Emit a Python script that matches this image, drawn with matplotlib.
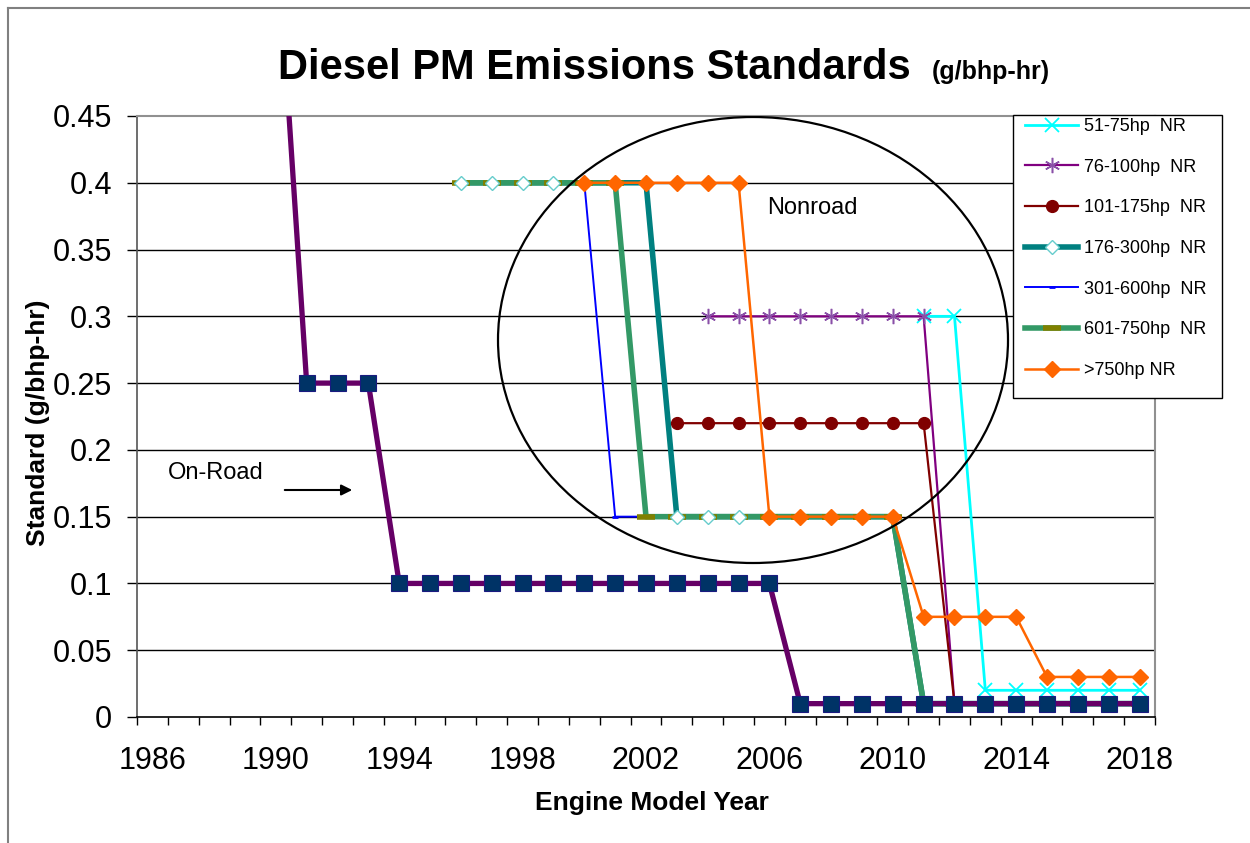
import matplotlib
matplotlib.use("Agg")
import matplotlib.pyplot as plt
from matplotlib.patches import Ellipse, Rectangle
from matplotlib.lines import Line2D
import numpy as np

plt.rcParams['font.family'] = ['Liberation Sans', 'DejaVu Sans']

years = list(range(1986, 2019))

def series(spec):
    out = []
    for y in years:
        v = np.nan
        for (a, b, val) in spec:
            if a <= y <= b:
                v = val
        out.append(v)
    return np.array(out, dtype=float)

onroad = series([(1988, 1990, 0.6), (1991, 1993, 0.25), (1994, 2006, 0.1), (2007, 2018, 0.01)])
nr_51_75 = series([(2011, 2012, 0.3), (2013, 2018, 0.02)])
nr_76_100 = series([(2004, 2011, 0.3), (2012, 2018, 0.01)])
nr_101_175 = series([(2003, 2011, 0.22), (2012, 2018, 0.01)])
nr_176_300 = series([(1996, 2002, 0.4), (2003, 2010, 0.15), (2011, 2018, 0.01)])
nr_301_600 = series([(1996, 2000, 0.4), (2001, 2010, 0.15), (2011, 2018, 0.01)])
nr_601_750 = series([(1996, 2001, 0.4), (2002, 2010, 0.15), (2011, 2018, 0.01)])
nr_750 = series([(2000, 2005, 0.4), (2006, 2010, 0.15), (2011, 2014, 0.075), (2015, 2018, 0.03)])

labels = ['51-75hp  NR', '76-100hp  NR', '101-175hp  NR', '176-300hp  NR',
          '301-600hp  NR', '601-750hp  NR', '>750hp NR']
yticks = [0, 0.05, 0.1, 0.15, 0.2, 0.25, 0.3, 0.35, 0.4, 0.45]
ytick_labels = ['0', '0.05', '0.1', '0.15', '0.2', '0.25', '0.3', '0.35', '0.4', '0.45']
xtick_years = list(range(1986, 2019, 4))

W, H = 1250, 843
fig = plt.figure(figsize=(W / 100, H / 100), dpi=100)
ax = fig.add_axes([137 / W, 1 - 717 / H, (1155 - 137) / W, (717 - 116) / H])

x = np.array(years)

c_cyan, c_purp, c_red = '#00FFFF', '#800080', '#800000'
c_teal, c_blue, c_green, c_olive, c_orange = '#008080', '#0000FF', '#339966', '#808000', '#FF6600'

ax.plot(x, nr_51_75, color=c_cyan, lw=2.0, marker='x', ms=10, mew=1.3, mec=c_cyan, zorder=3)
ax.plot(x, nr_76_100, color=c_purp, lw=1.6, marker=(6, 2, 0), ms=11, mew=1.1, mec='#8a50a8', zorder=3.5)
ax.plot(x, nr_101_175, color=c_red, lw=1.6, marker='o', ms=8.5, mfc=c_red, mec=c_red, zorder=3.5)
ax.plot(x, nr_176_300, color=c_teal, lw=4.0, zorder=2.5)
ax.plot(x, nr_301_600, color=c_blue, lw=1.4, marker='_', ms=5, mew=2, mec=c_blue, zorder=2.6)
ax.plot(x, nr_601_750, color=c_green, lw=4.0, zorder=2.8)
ax.plot(x, nr_601_750, ls='none', marker='_', ms=13, mew=4.0, mec=c_olive, zorder=2.9)
ax.plot(x, nr_176_300, ls='none', marker='D', ms=7, mfc='white', mec='#66CCCC', mew=1.0, zorder=4)
ax.plot(x, nr_750, color=c_orange, lw=1.8, marker='D', ms=8, mfc=c_orange, mec=c_orange, zorder=5)

ax.plot(x, onroad, color='#660066', lw=3.8, zorder=6)
ax.plot(x, onroad, ls='none', marker='s', ms=11, mfc='#003366', mec='#1a1a80', mew=0.8, zorder=7)

ax.set_xlim(1985.5, 2018.5)
ax.set_ylim(0, 0.45)
ax.set_yticks(yticks)
ax.set_yticklabels(ytick_labels)
ax.set_xticks(xtick_years)
ax.set_xticklabels([str(v) for v in xtick_years])
ax.set_xticks(np.arange(1985.5, 2019, 1.0), minor=True)
ax.tick_params(axis='x', which='major', length=0, pad=21, labelsize=22)
ax.tick_params(axis='x', which='minor', length=6, width=1, color='black', direction='out')
ax.tick_params(axis='y', which='major', length=7, width=1, direction='out', labelsize=22, pad=11)

for yv in yticks[1:-1]:
    ax.axhline(yv, color='black', lw=1.0, zorder=1)
for s in ['top', 'right']:
    ax.spines[s].set_color('#909090')
    ax.spines[s].set_linewidth(1.5)
ax.spines['left'].set_color('#555555')
ax.spines['bottom'].set_color('black')
ax.spines['left'].set_linewidth(1.2)
ax.spines['bottom'].set_linewidth(1.2)

fig.text(38 / W, 1 - 423 / H, 'Standard (g/bhp-hr)', fontsize=19, fontweight='bold',
         rotation=90, ha='center', va='center', zorder=11)
fig.text(652 / W, 1 - 803 / H, 'Engine Model Year', fontsize=19, fontweight='bold',
         ha='center', va='center')

ell = Ellipse(((753 - 137) / 1018, (717 - 340) / 601), 510 / 1018, 446 / 601,
              transform=ax.transAxes, fill=False, edgecolor='black', lw=1.6, zorder=8)
ax.add_patch(ell)

fig.text(812 / W, 1 - 208 / H, 'Nonroad', fontsize=17, ha='center', va='center')
fig.text(216 / W, 1 - 473 / H, 'On-Road', fontsize=17, ha='center', va='center')
ax.annotate('', xy=(355 / W, 1 - 490 / H), xytext=(282 / W, 1 - 490 / H),
            xycoords='figure fraction', textcoords='figure fraction',
            arrowprops=dict(arrowstyle='-|>', color='black', lw=1.5, mutation_scale=16))

fig.text(278 / W, 1 - 79 / H, 'Diesel PM Emissions Standards', fontsize=30, fontweight='bold',
         ha='left', va='baseline')
fig.text(932 / W, 1 - 79 / H, '(g/bhp-hr)', fontsize=18, fontweight='bold',
         ha='left', va='baseline')

handles = [
    Line2D([], [], color=c_cyan, lw=2.0, marker='x', ms=10, mew=1.3),
    Line2D([], [], color=c_purp, lw=1.6, marker=(6, 2, 0), ms=11, mew=1.1, mec='#8a50a8'),
    Line2D([], [], color=c_red, lw=1.6, marker='o', ms=8.5),
    Line2D([], [], color=c_teal, lw=4.0, marker='D', ms=7, mfc='white', mec='#66CCCC'),
    Line2D([], [], color=c_blue, lw=1.4, marker='_', ms=5, mew=2, mec=c_blue),
    Line2D([], [], color=c_green, lw=4.0, marker='_', ms=13, mew=4.0, mec=c_olive),
    Line2D([], [], color=c_orange, lw=1.8, marker='D', ms=8),
]
leg = fig.legend(handles, labels, loc='upper left', bbox_to_anchor=(1025 / W, 1 - 118 / H),
                 bbox_transform=fig.transFigure, frameon=False, fontsize=13,
                 handlelength=2.95, handletextpad=0.3, labelspacing=1.31,
                 borderpad=0, borderaxespad=0, numpoints=1)
leg.set_zorder(10)
fig.patches.append(Rectangle((1013 / W, 1 - 398 / H), 209 / W, 283 / H, transform=fig.transFigure,
                             facecolor='white', edgecolor='black', lw=1.0, zorder=9))

fig.add_artist(Line2D([8 / W, 8 / W], [0, 1 - 8 / H], color='#808080', lw=1.5, transform=fig.transFigure))
fig.add_artist(Line2D([8 / W, 1], [1 - 8 / H, 1 - 8 / H], color='#808080', lw=1.5, transform=fig.transFigure))

fig.savefig('out.png', dpi=100)
